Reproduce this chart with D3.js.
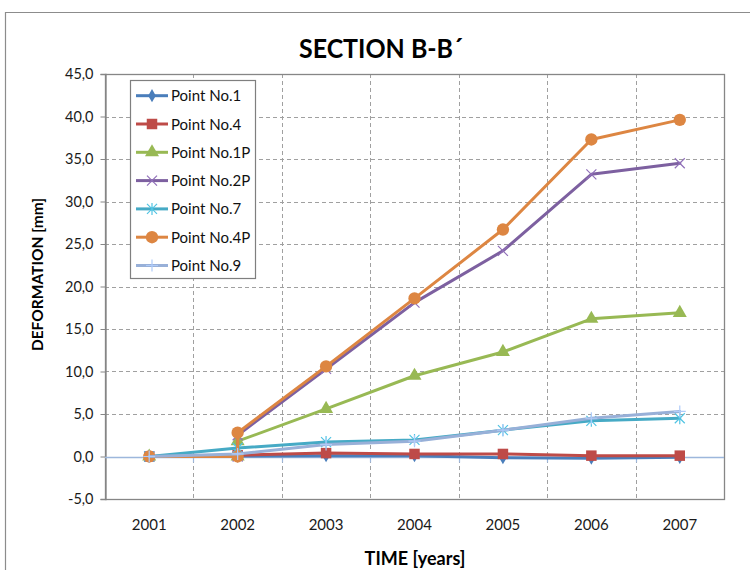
<!DOCTYPE html>
<html>
<head>
<meta charset="utf-8">
<script src="https://cdn.jsdelivr.net/npm/d3@7"></script>
<style>
  html, body { margin: 0; padding: 0; background: #fff; }
  svg { display: block; font-family: Lato, "Open Sans", sans-serif; }
</style>
</head>
<body>
<svg id="chart" width="750" height="570"></svg>
<script>
// Measurement years (category axis)
const years = [2001, 2002, 2003, 2004, 2005, 2006, 2007];
const yTicks = [-5, 0, 5, 10, 15, 20, 25, 30, 35, 40, 45];

// Deformation readings per year [mm]
const point1   = [0, 0.05, 0.1, 0.1, -0.15, -0.2, -0.1];
const point4   = [0, 0.15, 0.4, 0.3, 0.3, 0.1, 0.1];
const point1P  = [0, 1.8, 5.6, 9.5, 12.3, 16.2, 16.9];
const point2P  = [0, 2.5, 10.3, 18.1, 24.2, 33.2, 34.5];
const point7   = [0, 1.0, 1.7, 1.95, 3.1, 4.2, 4.5];
const point4P  = [0, 2.8, 10.6, 18.6, 26.7, 37.3, 39.6];
const point9   = [0, 0.3, 1.4, 1.8, 3.1, 4.5, 5.3];

// Series installed in 2002 get a zero reading in that year before the first measured value
const installed2002 = ["Point No.1P", "Point No.2P", "Point No.4P"];

const series = [
  { name: "Point No.1",  values: point1,  color: "#4A7EBB", marker: "diamond" },
  { name: "Point No.4",  values: point4,  color: "#BE4B48", marker: "square" },
  { name: "Point No.1P", values: point1P, color: "#98B954", marker: "triangle" },
  { name: "Point No.2P", values: point2P, color: "#7D60A0", marker: "x" },
  { name: "Point No.7",  values: point7,  color: "#46AAC5", marker: "asterisk" },
  { name: "Point No.4P", values: point4P, color: "#DD8642", marker: "circle" },
  { name: "Point No.9",  values: point9,  color: "#98B0D8", marker: "plus" }
];

const svg = d3.select("#chart");
const plot = { left: 105, right: 724, top: 74, bottom: 499 };

const x = d3.scaleLinear().domain([years[0] - 0.5, years[years.length - 1] + 0.5])
  .range([plot.left, plot.right]);
const y = d3.scaleLinear().domain([-5, 45]).range([plot.bottom, plot.top]);

// Outer chart frame
svg.append("path")
  .attr("d", `M5.5,570 V12.5 H750`)
  .attr("fill", "none").attr("stroke", "#8c8c8c").attr("stroke-width", 1.2);

// Title
svg.append("text")
  .attr("x", 381).attr("y", 58)
  .attr("text-anchor", "middle")
  .attr("font-size", 26).attr("font-weight", "bold")
  .attr("fill", "#000")
  .attr("textLength", 164).attr("lengthAdjust", "spacingAndGlyphs")
  .text("SECTION B-B´");

// Horizontal gridlines
svg.append("g").selectAll("line")
  .data(yTicks.filter(d => d !== 0 && d !== 45 && d !== -5))
  .join("line")
  .attr("x1", plot.left).attr("x2", plot.right)
  .attr("y1", d => Math.round(y(d)) + 0.5).attr("y2", d => Math.round(y(d)) + 0.5)
  .attr("stroke", "#a0a0a0").attr("stroke-width", 1).attr("stroke-dasharray", "4,3");

// Vertical gridlines between categories
const bounds = years.slice(0, -1).map(d => d + 0.5);
svg.append("g").selectAll("line")
  .data(bounds)
  .join("line")
  .attr("x1", d => Math.round(x(d)) + 0.5).attr("x2", d => Math.round(x(d)) + 0.5)
  .attr("y1", plot.top).attr("y2", plot.bottom)
  .attr("stroke", "#a0a0a0").attr("stroke-width", 1).attr("stroke-dasharray", "4,3");

// Plot area border
svg.append("rect")
  .attr("x", plot.left + 0.5).attr("y", plot.top + 0.5)
  .attr("width", plot.right - plot.left).attr("height", plot.bottom - plot.top)
  .attr("fill", "none").attr("stroke", "#868686").attr("stroke-width", 1.3);

// Value axis
const yAxis = d3.axisLeft(y).tickValues(yTicks).tickSize(5).tickPadding(7)
  .tickFormat(d => d3.format(".1f")(d).replace(".", ",").replace("−", "-"));
const gy = svg.append("g").attr("transform", `translate(${plot.left + 0.5},0)`).call(yAxis);
gy.select(".domain").attr("stroke", "#868686").attr("stroke-width", 1.3);
gy.selectAll(".tick line").attr("stroke", "#868686");
gy.selectAll(".tick text").attr("font-size", 14.5).attr("fill", "#1a1a1a")
  .attr("font-family", "Lato, sans-serif");

// Category axis crossing at zero
const zeroY = Math.round(y(0)) + 0.5;
svg.append("line")
  .attr("x1", plot.left).attr("x2", plot.right)
  .attr("y1", zeroY).attr("y2", zeroY)
  .attr("stroke", "#9db7dc").attr("stroke-width", 1.5);
svg.append("g").selectAll("line")
  .data(bounds)
  .join("line")
  .attr("x1", d => Math.round(x(d)) + 0.5).attr("x2", d => Math.round(x(d)) + 0.5)
  .attr("y1", zeroY).attr("y2", zeroY + 5)
  .attr("stroke", "#9db7dc").attr("stroke-width", 1.2);

// Category labels along the bottom
svg.append("g").selectAll("text")
  .data(years)
  .join("text")
  .attr("x", d => x(d)).attr("y", plot.bottom + 31)
  .attr("text-anchor", "middle")
  .attr("font-size", 15).attr("fill", "#1a1a1a")
  .text(d => d);

// Axis titles
svg.append("text")
  .attr("x", 415).attr("y", 565)
  .attr("text-anchor", "middle")
  .attr("font-size", 18).attr("font-weight", "bold")
  .text("TIME [years]");
svg.append("text")
  .attr("transform", `translate(43,${(plot.top + plot.bottom) / 2 - 12}) rotate(-90)`)
  .attr("text-anchor", "middle")
  .attr("font-size", 15.5).attr("font-weight", "bold")
  .text("DEFORMATION [mm]");

// Marker shapes
function markerPath(type) {
  switch (type) {
    case "diamond":  return d3.symbol(d3.symbolDiamond, 50)();
    case "square":   return d3.symbol(d3.symbolSquare, 110)();
    case "triangle": return d3.symbol(d3.symbolTriangle, 85)();
    case "circle":   return d3.symbol(d3.symbolCircle, 120)();
    case "x":        return "M-5,-5L5,5M-5,5L5,-5";
    case "asterisk": return "M-5,-5L5,5M-5,5L5,-5M0,-6V6";
    case "plus":     return "M-6,0H6M0,-6V6";
  }
}
const strokeOnly = new Set(["x", "asterisk", "plus"]);

function seriesPoints(s) {
  const pts = [];
  s.values.forEach((v, i) => {
    if (installed2002.includes(s.name) && years[i] === 2002) pts.push([years[i], 0]);
    pts.push([years[i], v]);
  });
  return pts;
}

const line = d3.line().x(d => x(d[0])).y(d => y(d[1]));

series.forEach(s => {
  const pts = seriesPoints(s);
  const g = svg.append("g");
  g.append("path")
    .datum(pts)
    .attr("d", line)
    .attr("fill", "none")
    .attr("stroke", s.color).attr("stroke-width", 3)
    .attr("stroke-linejoin", "round").attr("stroke-linecap", "round");
  g.selectAll("path.mk")
    .data(pts)
    .join("path")
    .attr("class", "mk")
    .attr("transform", d => `translate(${x(d[0])},${y(d[1])})`)
    .attr("d", markerPath(s.marker))
    .attr("fill", strokeOnly.has(s.marker) ? "none" : s.color)
    .attr("stroke", strokeOnly.has(s.marker) ? d3.color(s.color).brighter(0.4) : "none")
    .attr("stroke-width", 1.2);
});

// Legend
const legend = svg.append("g");
legend.append("rect")
  .attr("x", 130.5).attr("y", 80.5).attr("width", 125).attr("height", 198)
  .attr("fill", "#fff").attr("stroke", "#7f7f7f").attr("stroke-width", 1.2);
const rowY = i => 95.7 + i * 28.3;
series.forEach((s, i) => {
  const row = legend.append("g").attr("transform", `translate(0,${rowY(i)})`);
  row.append("line")
    .attr("x1", 136).attr("x2", 168).attr("y1", 0).attr("y2", 0)
    .attr("stroke", s.color).attr("stroke-width", 3);
  row.append("path")
    .attr("transform", "translate(152,0)")
    .attr("d", markerPath(s.marker))
    .attr("fill", strokeOnly.has(s.marker) ? "none" : s.color)
    .attr("stroke", strokeOnly.has(s.marker) ? d3.color(s.color).brighter(0.4) : "none")
    .attr("stroke-width", 1.2);
  row.append("text")
    .attr("x", 171).attr("y", 5.5)
    .attr("font-size", 15).attr("fill", "#111")
    .text(s.name);
});
</script>
</body>
</html>
